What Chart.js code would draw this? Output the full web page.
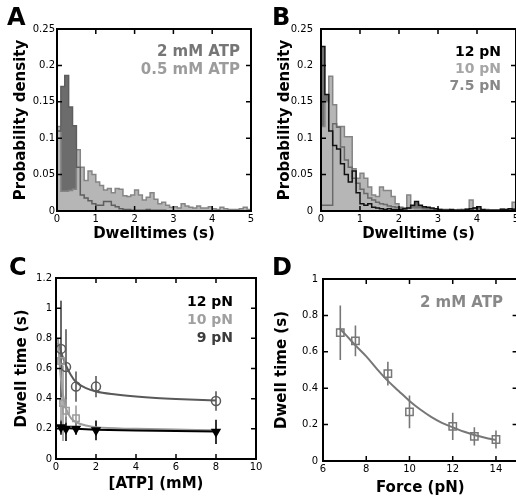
<!DOCTYPE html>
<html>
<head>
<meta charset="utf-8">
<script src="https://cdn.jsdelivr.net/npm/chart.js@4.4.1/dist/chart.umd.min.js"></script>
<style>
html, body { margin:0; padding:0; background:#fff; }
body { width:516px; height:503px; position:relative; overflow:hidden; }
canvas { position:absolute; }
</style>
</head>
<body>
<canvas id="cA" width="258" height="248" style="left:0px;top:0px"></canvas>
<canvas id="cB" width="270" height="248" style="left:258px;top:0px"></canvas>
<canvas id="cC" width="270" height="255" style="left:0px;top:248px"></canvas>
<canvas id="cD" width="270" height="255" style="left:258px;top:248px"></canvas>
<script>
// ---------- data ----------
const binStarts = [0,0.1,0.2,0.3,0.4,0.5,0.6,0.7,0.8,0.9,1,1.1,1.2,1.3,1.4,1.5,1.6,1.7,1.8,1.9,2,2.1,2.2,2.3,2.4,2.5,2.6,2.7,2.8,2.9,3,3.1,3.2,3.3,3.4,3.5,3.6,3.7,3.8,3.9,4,4.1,4.2,4.3,4.4,4.5,4.6,4.7,4.8,4.9];
const binEnd = 5;

// Panel A (probability density per bin)
const densA_2mM = [0.11,0.171,0.186,0.143,0.117,0.06,0.022,0.018,0.014,0.01,
  0.008,0.008,0.013,0.013,0.008,0.006,0.003,0.002,0.002,0.001,
  0.001,0.001,0.001,0.002,0.001,0.001,0.001,0.001,0,0,
  0,0,0,0,0,0,0,0,0,0,
  0,0,0,0,0,0,0,0,0,0];
const densA_05mM = [0.116,0.027,0.027,0.028,0.03,0.084,0.06,0.042,0.055,0.05,
  0.04,0.035,0.029,0.031,0.025,0.031,0.03,0.021,0.02,0.022,
  0.029,0.022,0.015,0.019,0.025,0.016,0.01,0.012,0.008,0.005,
  0.006,0.004,0.01,0.007,0.005,0.004,0.007,0.004,0.004,0.006,
  0.003,0.002,0.005,0.003,0.002,0.002,0.002,0.003,0.005,0.002];

// Panel B
const densB_12pN = [0.226,0.16,0.11,0.09,0.085,0.065,0.05,0.04,0.055,0.025,
  0.01,0.008,0.01,0.005,0.004,0.003,0.002,0.003,0.002,0.002,
  0.002,0.003,0.004,0.008,0.013,0.008,0.006,0.005,0.004,0.003,
  0.002,0.001,0.001,0.002,0.001,0.001,0.001,0.002,0.003,0.004,
  0.006,0.002,0.001,0.001,0.001,0.001,0.002,0.002,0.003,0.002];
const densB_10pN = [0.116,0.15,0.185,0.146,0.116,0.116,0.102,0.102,0.058,0.045,
  0.052,0.045,0.033,0.022,0.02,0.033,0.028,0.028,0.02,0.01,
  0.003,0.002,0.022,0.004,0.003,0.003,0.002,0.002,0.001,0.001,
  0.001,0.001,0.001,0.001,0.001,0.002,0.001,0.003,0.015,0.003,
  0.001,0.001,0.002,0.001,0.001,0.001,0.003,0.002,0.001,0.012];
const densB_7p5pN = [0.008,0.008,0.008,0.12,0.115,0.088,0.07,0.06,0.045,0.038,
  0.03,0.024,0.018,0.015,0.012,0.01,0.009,0.007,0.006,0.005,
  0.005,0.004,0.004,0.006,0.01,0.006,0.004,0.003,0.003,0.002,
  0.002,0.002,0.002,0.001,0.001,0.001,0.002,0.001,0.002,0.004,
  0.003,0.001,0.001,0.001,0.001,0.001,0.001,0.001,0.002,0.003];

// Panel C
const atpC_12 = [0.25,0.5,1,2,8];
const dwellC_12 = [0.21,0.2,0.2,0.19,0.18];
const errC_12 = [0.05,0.08,0.04,0.065,0.08];
const atpC_10 = [0.25,0.35,0.5,1];
const dwellC_10 = [0.65,0.37,0.32,0.27];
const errC_10 = [0.4,0.25,0.08,0.085];
const atpC_9 = [0.25,0.5,1,2,8];
const dwellC_9 = [0.73,0.61,0.48,0.48,0.385];
const errC_9 = [0.32,0.25,0.1,0.07,0.065];
const fitC9_x = [0.1,0.25,0.5,0.75,1,1.5,2,3,4,5,6,7,8];
const fitC9_y = [0.77,0.71,0.62,0.555,0.51,0.47,0.448,0.428,0.414,0.404,0.397,0.392,0.388];
const fitC10_x = [0.1,0.2,0.3,0.4,0.5,0.75,1,1.5,2,4,6,8];
const fitC10_y = [0.8,0.6,0.47,0.39,0.335,0.27,0.245,0.222,0.21,0.2,0.195,0.19];
const fitC12_x = [0.1,0.5,1,2,4,6,8];
const fitC12_y = [0.215,0.205,0.2,0.194,0.189,0.186,0.183];

// Panel D
const forceD = [6.8,7.5,9,10,12,13,14];
const dwellD = [0.705,0.66,0.48,0.27,0.19,0.135,0.118];
const errD = [0.15,0.085,0.065,0.09,0.075,0.05,0.05];
const fitD_x = [6.75,7,7.5,8,8.5,9,9.5,10,10.5,11,11.5,12,12.5,13,13.5,14];
const fitD_y = [0.73,0.7,0.635,0.575,0.505,0.44,0.385,0.33,0.283,0.243,0.21,0.185,0.162,0.143,0.128,0.116];

// tick values
const ticksHistX = [0,1,2,3,4,5];
const ticksHistY = [0,0.05,0.1,0.15,0.2,0.25];
const ticksCX = [0,2,4,6,8,10];
const ticksCY = [0,0.2,0.4,0.6,0.8,1,1.2];
const ticksDX = [6,8,10,12,14];
const ticksDY = [0,0.2,0.4,0.6,0.8,1];

// labels
const legendA = ['2 mM ATP','0.5 mM ATP'];
const legendB = ['12 pN','10 pN','7.5 pN'];
const legendC = ['12 pN','10 pN','9 pN'];
const legendD = ['2 mM ATP'];

// ---------- helpers ----------
const FONT = '"DejaVu Sans", "Liberation Sans", sans-serif';
const histPoints = (vals) => [{x: binStarts[0], y: 0}, ...binStarts.map((s, i) => ({x: s, y: vals[i]})), {x: binEnd, y: 0}];
const xy = (xs, ys) => xs.map((v, i) => ({x: v, y: ys[i]}));

const deco = {
  id: 'deco',
  beforeDatasetsDraw(chart) {
    const {ctx} = chart;
    const xs = chart.scales.x, ys = chart.scales.y;
    chart.data.datasets.forEach((ds) => {
      if (!ds.errorBars) return;
      ctx.save();
      ctx.strokeStyle = ds.borderColor;
      ctx.lineWidth = 1.6;
      ctx.beginPath();
      ds.data.forEach((p, j) => {
        const px = xs.getPixelForValue(p.x);
        ctx.moveTo(px, ys.getPixelForValue(p.y - ds.errorBars[j]));
        ctx.lineTo(px, ys.getPixelForValue(p.y + ds.errorBars[j]));
      });
      ctx.stroke();
      ctx.restore();
    });
  },
  afterDatasetsDraw(chart) {
    const {ctx, chartArea: a} = chart;
    const xs = chart.scales.x, ys = chart.scales.y;
    ctx.save();
    ctx.strokeStyle = '#000';
    ctx.lineWidth = 1.5;
    ctx.beginPath();
    xs.ticks.forEach(t => {
      const px = xs.getPixelForValue(t.value);
      ctx.moveTo(px, a.bottom); ctx.lineTo(px, a.bottom - 5);
      ctx.moveTo(px, a.top); ctx.lineTo(px, a.top + 5);
    });
    ys.ticks.forEach(t => {
      const py = ys.getPixelForValue(t.value);
      ctx.moveTo(a.left, py); ctx.lineTo(a.left + 5, py);
      ctx.moveTo(a.right, py); ctx.lineTo(a.right - 5, py);
    });
    ctx.stroke();
    ctx.lineWidth = 2;
    ctx.strokeRect(a.left, a.top, a.right - a.left, a.bottom - a.top);
    ctx.restore();
  },
  afterDraw(chart, args, o) {
    const {ctx} = chart;
    ctx.save();
    ctx.fillStyle = '#000';
    ctx.font = 'bold 24px ' + FONT;
    ctx.textAlign = 'left';
    ctx.textBaseline = 'alphabetic';
    ctx.fillText(o.letter, o.letterX, o.letterY);
    ctx.font = 'bold ' + o.legSize + 'px ' + FONT;
    ctx.textAlign = 'right';
    ctx.textBaseline = 'middle';
    o.legend.forEach((t, i) => {
      ctx.fillStyle = o.legColors[i];
      ctx.fillText(t, o.legX, o.legY + i * o.legDy);
    });
    ctx.restore();
  }
};
Chart.register(deco);

function scales(c) {
  return {
    x: {
      type: 'linear', min: c.xMin, max: c.xMax,
      border: {display: false},
      grid: {display: false, drawTicks: false},
      afterBuildTicks: s => { s.ticks = c.xTicks.map(v => ({value: v})); },
      afterFit: s => { s.height = c.xH; },
      ticks: {color: '#000', font: {family: FONT, size: 10}, padding: c.xPad, maxRotation: 0, autoSkip: false, callback: v => String(v)},
      title: {display: true, text: c.xTitle, color: '#000', font: {family: FONT, size: 15, weight: 'bold'}, padding: {top: 0, bottom: c.xTitlePad}}
    },
    y: {
      type: 'linear', min: c.yMin, max: c.yMax,
      border: {display: false},
      grid: {display: false, drawTicks: false},
      afterBuildTicks: s => { s.ticks = c.yTicks.map(v => ({value: v})); },
      afterFit: s => { s.width = c.yW; },
      ticks: {color: '#000', font: {family: FONT, size: 10}, padding: c.yPad, autoSkip: false, callback: v => String(v)},
      title: {display: true, text: c.yTitle, color: '#000', font: {family: FONT, size: 15, weight: 'bold'}, padding: {top: c.yTitlePad, bottom: 0}}
    }
  };
}

const common = {
  responsive: false, animation: false, devicePixelRatio: 1, events: [],
};

function histDs(label, vals, border, fill, bg) {
  return {label, data: histPoints(vals), stepped: 'before', borderColor: border, borderWidth: 1.5,
    pointRadius: 0, fill: fill, backgroundColor: bg || 'rgba(0,0,0,0)'};
}

// ---------- Panel A ----------
new Chart(document.getElementById('cA'), {
  type: 'line',
  data: {datasets: [
    histDs(legendA[0], densA_2mM, '#5e5e5e', {target: 1, above: '#6c6c6c', below: 'rgba(0,0,0,0)'}),
    histDs(legendA[1], densA_05mM, '#858585', 'origin', '#b6b6b6')
  ]},
  options: Object.assign({}, common, {
    layout: {padding: {left: 0, top: 29, right: 7, bottom: 0}},
    scales: scales({xMin: 0, xMax: 5, yMin: 0, yMax: 0.25, xTicks: ticksHistX, yTicks: ticksHistY,
      xH: 37, yW: 57, xPad: 2, yPad: 2, xTitle: 'Dwelltimes (s)', yTitle: 'Probability density', xTitlePad: 5, yTitlePad: 12}),
    plugins: {legend: {display: false}, tooltip: {enabled: false}, filler: {drawTime: 'beforeDatasetsDraw'},
      deco: {letter: 'A', letterX: 7, letterY: 25, legend: legendA, legColors: ['#767676', '#9c9c9c'], legSize: 15, legX: 240, legY: 52, legDy: 18}}
  })
});

// ---------- Panel B ----------
new Chart(document.getElementById('cB'), {
  type: 'line',
  data: {datasets: [
    histDs(legendB[0], densB_12pN, '#111111', {target: 2, above: '#707070', below: 'rgba(0,0,0,0)'}),
    histDs(legendB[2], densB_7p5pN, '#6a6a6a', false),
    histDs(legendB[1], densB_10pN, '#858585', 'origin', '#b6b6b6')
  ]},
  options: Object.assign({}, common, {
    layout: {padding: {left: 0, top: 29, right: 12, bottom: 0}},
    scales: scales({xMin: 0, xMax: 5, yMin: 0, yMax: 0.25, xTicks: ticksHistX, yTicks: ticksHistY,
      xH: 37, yW: 63, xPad: 2, yPad: 8, xTitle: 'Dwelltime (s)', yTitle: 'Probability density', xTitlePad: 5, yTitlePad: 18}),
    plugins: {legend: {display: false}, tooltip: {enabled: false}, filler: {drawTime: 'beforeDatasetsDraw'},
      deco: {letter: 'B', letterX: 14, letterY: 25, legend: legendB, legColors: ['#000000', '#a6a6a6', '#888888'], legSize: 14, legX: 243, legY: 52, legDy: 17}}
  })
});

// ---------- Panel C ----------
new Chart(document.getElementById('cC'), {
  type: 'scatter',
  data: {datasets: [
    {label: legendC[0], data: xy(atpC_12, dwellC_12), errorBars: errC_12, pointStyle: 'triangle', rotation: 180, pointRadius: 4.5,
      borderColor: '#000', backgroundColor: '#000', borderWidth: 1.5},
    {label: legendC[1], data: xy(atpC_10, dwellC_10), errorBars: errC_10, pointStyle: 'rect', pointRadius: 4.5,
      borderColor: '#9c9c9c', backgroundColor: 'rgba(0,0,0,0)', borderWidth: 1.5},
    {label: legendC[2], data: xy(atpC_9, dwellC_9), errorBars: errC_9, pointStyle: 'circle', pointRadius: 4.5,
      borderColor: '#595959', backgroundColor: 'rgba(0,0,0,0)', borderWidth: 1.5},
    {label: legendC[0] + ' fit', data: xy(fitC12_x, fitC12_y), showLine: true, pointRadius: 0, borderColor: '#000', borderWidth: 2},
    {label: legendC[1] + ' fit', data: xy(fitC10_x, fitC10_y), showLine: true, pointRadius: 0, borderColor: '#9c9c9c', borderWidth: 2, cubicInterpolationMode: 'monotone'},
    {label: legendC[2] + ' fit', data: xy(fitC9_x, fitC9_y), showLine: true, pointRadius: 0, borderColor: '#595959', borderWidth: 2, cubicInterpolationMode: 'monotone'}
  ]},
  options: Object.assign({}, common, {
    layout: {padding: {left: 0, top: 30, right: 14, bottom: 0}},
    scales: scales({xMin: 0, xMax: 10, yMin: 0, yMax: 1.2, xTicks: ticksCX, yTicks: ticksCY,
      xH: 44, yW: 56, xPad: 2, yPad: 4, xTitle: '[ATP] (mM)', yTitle: 'Dwell time (s)', xTitlePad: 10, yTitlePad: 13}),
    plugins: {legend: {display: false}, tooltip: {enabled: false},
      deco: {letter: 'C', letterX: 9, letterY: 27, legend: legendC, legColors: ['#000000', '#a0a0a0', '#3c3c3c'], legSize: 14, legX: 233, legY: 54, legDy: 18}}
  })
});

// ---------- Panel D ----------
new Chart(document.getElementById('cD'), {
  type: 'scatter',
  data: {datasets: [
    {label: legendD[0], data: xy(forceD, dwellD), errorBars: errD, pointStyle: 'rect', pointRadius: 5.2,
      borderColor: '#777777', backgroundColor: 'rgba(0,0,0,0)', borderWidth: 1.5},
    {label: legendD[0] + ' fit', data: xy(fitD_x, fitD_y), showLine: true, pointRadius: 0, borderColor: '#777777', borderWidth: 2, cubicInterpolationMode: 'monotone'}
  ]},
  options: Object.assign({}, common, {
    layout: {padding: {left: 0, top: 31, right: 10.4, bottom: 0}},
    scales: scales({xMin: 6, xMax: 15, yMin: 0, yMax: 1, xTicks: ticksDX, yTicks: ticksDY,
      xH: 42, yW: 65, xPad: 2, yPad: 5, xTitle: 'Force (pN)', yTitle: 'Dwell time (s)', xTitlePad: 6, yTitlePad: 15}),
    plugins: {legend: {display: false}, tooltip: {enabled: false},
      deco: {letter: 'D', letterX: 14, letterY: 27, legend: legendD, legColors: ['#888888'], legSize: 15, legX: 245, legY: 55, legDy: 18}}
  })
});
</script>
</body>
</html>
